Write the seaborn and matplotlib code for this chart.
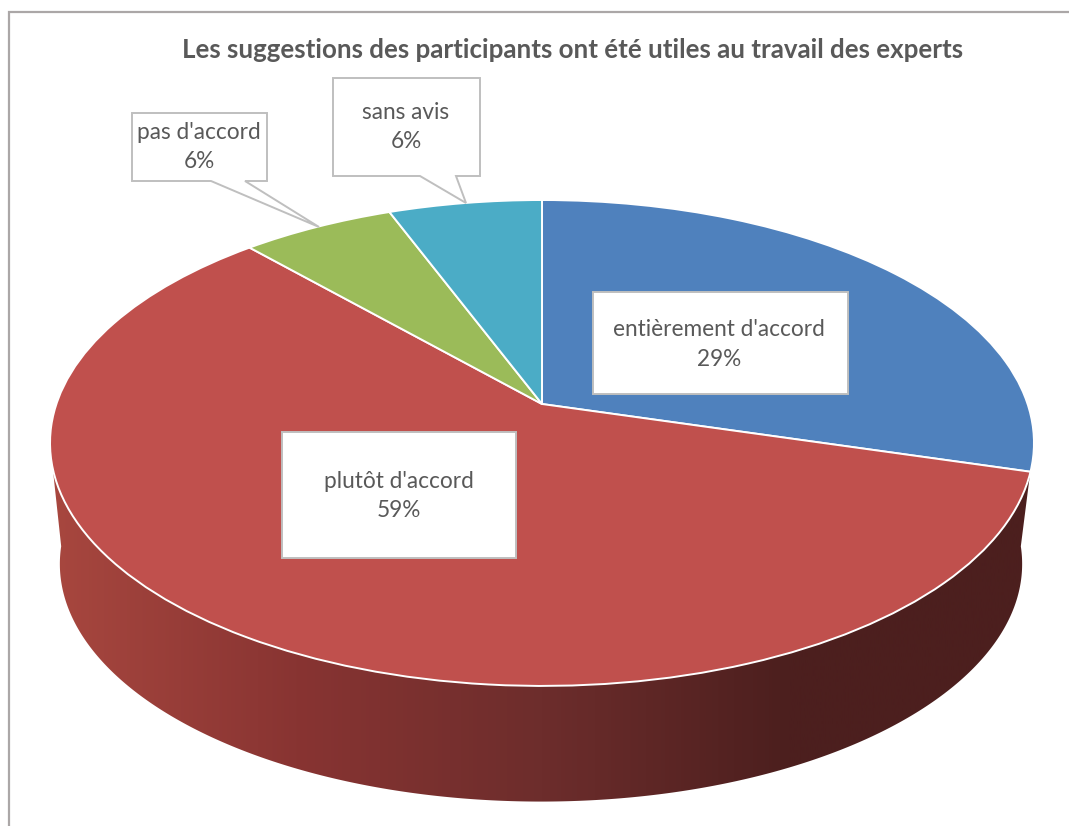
import numpy as np
import matplotlib
matplotlib.use('Agg')
import matplotlib.pyplot as plt
from matplotlib.patches import Polygon
from matplotlib.transforms import Transform
import seaborn as sns

# Answers from the 17 participants
labels = ['entièrement d\'accord', 'plutôt d\'accord', 'pas d\'accord', 'sans avis']
counts = [5, 10, 1, 1]
title = 'Les suggestions des participants ont été utiles au travail des experts'
slice_colors = ['#4f81bd', '#c0504d', '#9bbb59', '#4bacc6']
wall_colors = ['#a8473f', '#883432', '#6d2d2c', '#4c1f1e', '#4c1f1e']

sns.set_theme(style='white')
plt.rcParams['font.family'] = ['Lato', 'DejaVu Sans']

W, H = 1069, 826
text_color = '#595959'
box_color = '#bfbfbf'


# Perspective used for the tilted pie, unit circle -> pixels
def project(x, y):
    k = 0.1604
    w = 1 + k * y
    return 542 + 485.6 * x / w, 404 - 236.7 * y / w


class Tilt(Transform):
    input_dims = 2
    output_dims = 2

    def transform_non_affine(self, values):
        values = np.asarray(values, dtype=float)
        px, py = project(values[:, 0], values[:, 1])
        return np.column_stack([px, py])


fig = plt.figure(figsize=(W / 100, H / 100), dpi=100, facecolor='white')
ax = fig.add_axes([0, 0, 1, 1])

wedges, _ = ax.pie(counts, colors=slice_colors, startangle=90, counterclock=False, frame=True,
                   wedgeprops={'edgecolor': 'white', 'linewidth': 1.4, 'zorder': 3})
for wedge in wedges:
    wedge.set_transform(Tilt() + ax.transData)

ax.set_aspect('auto')
ax.set_xlim(0, W)
ax.set_ylim(H, 0)
ax.axis('off')

# Side wall of the pie: gradient clipped to the area under the rim
t = np.linspace(0, 2 * np.pi, 721)
rim_x, rim_y = project(np.cos(t), np.sin(t))
mid_x, mid_y = (rim_x.min() + rim_x.max()) / 2, (rim_y.min() + rim_y.max()) / 2
shrink, drop = 0.978, 121
low_x = mid_x - 1 + shrink * (rim_x - mid_x)
low_y = mid_y + drop + shrink * (rim_y - mid_y)
lower = np.argsort(np.arctan2(low_y - low_y.mean(), low_x - low_x.mean()))
lower = lower[(low_y[lower] >= low_y.mean())][::-1]
wall = np.column_stack([
    np.r_[rim_x.min(), low_x[lower], rim_x.max()],
    np.r_[mid_y, low_y[lower], mid_y],
])
wall_patch = Polygon(wall, closed=True, transform=ax.transData, facecolor='none', edgecolor='none')
ax.add_patch(wall_patch)
gradient = ax.imshow(np.linspace(0, 1, 512).reshape(1, -1), aspect='auto', zorder=2,
                     cmap=sns.blend_palette(wall_colors, as_cmap=True),
                     extent=(rim_x.min(), rim_x.max(), H, 0))
gradient.set_clip_path(wall_patch)
ax.set_xlim(0, W)
ax.set_ylim(H, 0)

# Outer frame of the chart area, open at right and bottom
ax.plot([8.5, 8.5, W], [H, 12, 12], color='#aba7a7', lw=1.6, zorder=1, solid_joinstyle='miter')

# Title
ax.text(572.5, 50, title, ha='center', va='center', fontsize=18.65, fontweight='bold', color=text_color, zorder=6)

# Label boxes, the two small ones have a callout tail
boxes = [
    [(593, 292), (848, 292), (848, 394), (593, 394)],
    [(282, 432), (516, 432), (516, 558), (282, 558)],
    [(132, 113), (267, 113), (267, 181), (245, 181), (319, 227), (211, 181), (132, 181)],
    [(333, 78), (480, 78), (480, 176), (456, 176), (466, 203), (420, 176), (333, 176)],
]
label_pos = [(719, 344.5), (399, 496), (199, 147), (406, 127)]
total = sum(counts)
for label, count, box, pos in zip(labels, counts, boxes, label_pos):
    ax.add_patch(Polygon(box, closed=True, facecolor='white', edgecolor=box_color, lw=1.4, zorder=4,
                         joinstyle='miter'))
    ax.text(pos[0], pos[1], f'{label}\n{round(100 * count / total)}%', ha='center', va='center',
            fontsize=16.3, color=text_color, linespacing=1.5, zorder=5)

fig.savefig('out.png', dpi=100, facecolor='white')
